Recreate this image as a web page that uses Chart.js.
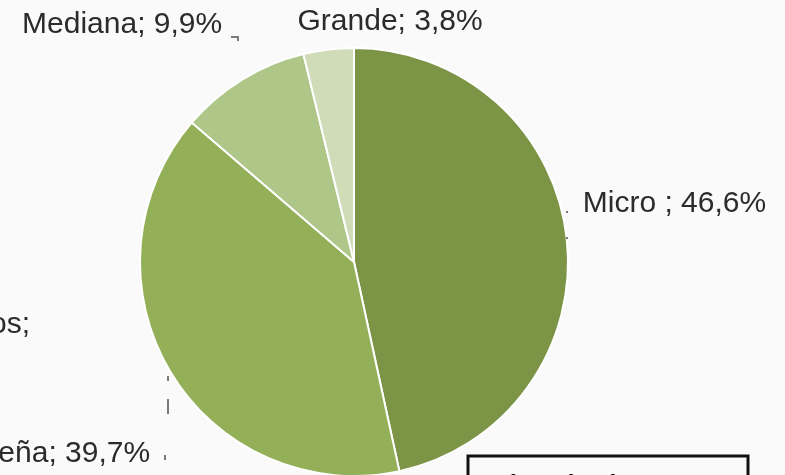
<!DOCTYPE html>
<html>
<head>
<meta charset="utf-8">
<script src="https://cdn.jsdelivr.net/npm/chart.js@4.4.1/dist/chart.umd.min.js"></script>
<style>
  html, body { margin: 0; padding: 0; background: #fafafa; overflow: hidden; }
  #wrap { position: absolute; left: -200px; top: 0; width: 985px; height: 500px; }
</style>
</head>
<body>
<div id="wrap"><canvas id="myChart" width="985" height="500"></canvas></div>
<script>
// datos de la torta
var categorias = ['Micro', 'Pequeña', 'Mediana', 'Grande'];
var valores = [46.6, 39.7, 9.9, 3.8];
var colores = ['#7b9445', '#93b058', '#aec687', '#cfdcb7'];
// separador tal como aparece en cada etiqueta
var separadores = [' ; ', '; ', '; ', '; '];

// desplazamiento de cada etiqueta respecto del borde del sector
var etiquetas = [
    { dx: 16, dy: -27, align: 'left' },
    { dx: -20, dy: 90, align: 'right' },
    { dx: -20, dy: -47, align: 'right' },
    { dx: -31, dy: -20, align: 'left' }
];

function fmt(v) {
    return v.toFixed(1).replace('.', ',') + '%';
}

var etiquetasPlugin = {
    id: 'etiquetas',
    afterDatasetsDraw: function (chart) {
        var ctx = chart.ctx;
        var arcs = chart.getDatasetMeta(0).data;
        ctx.save();
        ctx.font = '30px "Liberation Sans", Arial, sans-serif';
        ctx.fillStyle = '#2b2b2b';
        ctx.textBaseline = 'alphabetic';
        arcs.forEach(function (arc, i) {
            var mid = (arc.startAngle + arc.endAngle) / 2;
            var px = arc.x + Math.cos(mid) * arc.outerRadius;
            var py = arc.y + Math.sin(mid) * arc.outerRadius;
            var e = etiquetas[i];
            ctx.textAlign = e.align;
            ctx.fillText(categorias[i] + separadores[i] + fmt(valores[i]), px + e.dx, py + e.dy);
        });

        // restos de líneas guía
        ctx.strokeStyle = '#7a7a7a';
        ctx.lineWidth = 2;
        ctx.beginPath();
        ctx.moveTo(431, 37); ctx.lineTo(438, 37); ctx.lineTo(438, 41);
        ctx.stroke();
        ctx.fillStyle = '#7a7a7a';
        ctx.fillRect(766, 211, 2, 2);
        ctx.fillRect(766, 237, 2, 2);
        ctx.fillRect(367, 376, 2, 5);
        ctx.fillRect(367, 399, 2, 15);
        ctx.fillRect(364, 455, 2, 5);

        // texto cortado a la izquierda
        ctx.fillStyle = '#2b2b2b';
        ctx.textAlign = 'right';
        ctx.fillText('Sin datos;', 230, 333);

        // recuadro de referencia abajo a la derecha
        ctx.fillStyle = '#fafafa';
        ctx.fillRect(668, 456, 280, 60);
        ctx.strokeStyle = '#111';
        ctx.lineWidth = 3;
        ctx.strokeRect(668, 456, 280, 60);
        ctx.fillStyle = '#111';
        ctx.textAlign = 'left';
        ctx.font = 'bold 26px "Liberation Sans", Arial, sans-serif';
        ctx.fillText('Micro (1-9)', 688, 493);
        ctx.restore();
    }
};

var ctx = document.getElementById('myChart').getContext('2d');
var chart = new Chart(ctx, {
    type: 'pie',
    data: {
        labels: categorias,
        datasets: [{
            data: valores,
            backgroundColor: colores,
            borderColor: '#ffffff',
            borderWidth: 2
        }]
    },
    options: {
        responsive: false,
        animation: false,
        layout: { padding: { left: 339, right: 216, top: 47, bottom: 23 } },
        plugins: {
            legend: { display: false },
            tooltip: { enabled: false }
        }
    },
    plugins: [etiquetasPlugin]
});
</script>
</body>
</html>
